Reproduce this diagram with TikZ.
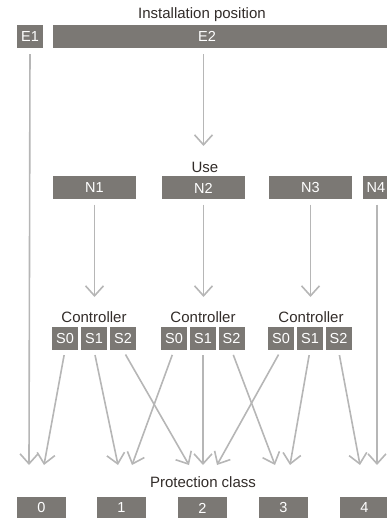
\documentclass[tikz,border=0pt]{standalone}
\usepackage{fontspec}
\setmainfont{Liberation Sans}
\usetikzlibrary{arrows.meta}
\definecolor{boxgray}{RGB}{123,120,116}
\definecolor{linegray}{RGB}{182,182,182}
\definecolor{txtgray}{RGB}{50,44,41}

\begin{document}
\begin{tikzpicture}[x=1pt,y=-1pt,
	box/.style={fill=boxgray,text=white,inner sep=0pt,minimum height=23pt,font=\fontsize{14.5}{16}\selectfont},
	boxlbl/.style={text=white,inner sep=0pt,font=\fontsize{14.5}{16}\selectfont},
	heading/.style={text=txtgray,inner sep=0pt,font=\fontsize{15}{17}\selectfont},
	arr/.style={draw=linegray,line width=1.6pt,-{Straight Barb[length=10pt,width=18pt]},shorten <=5pt}]

		\useasboundingbox (0,0) rectangle (387,518);
		\clip (0,0) rectangle (387,518);

		% installation position
		\node[heading] (inst) at (202,15) {Installation position};
		\node[box,minimum width=26pt] (e1) at (30,36.5) {E1};
		\node[box,minimum width=340pt,label={[boxlbl,xshift=-16pt]center:E2}] (e2) at (223,36.5) {};

		% use
		\node[heading] (use) at (205,167) {Use};
		\node[box,minimum width=83pt] (n1) at ( 94.5,188) {N1};
		\node[box,minimum width=83pt] (n2) at (203.5,188) {N2};
		\node[box,minimum width=83pt] (n3) at (310.5,188) {N3};
		\node[box,minimum width=83pt,label={[boxlbl,xshift=-28.5pt]center:N4}] (n4) at (404.5,188) {};

		% controllers
		\node[heading] (ctl1) at ( 94,317) {Controller};
		\node[heading] (ctl2) at (203,317) {Controller};
		\node[heading] (ctl3) at (311,317) {Controller};
		\node[box,minimum width=26pt] (s10) at ( 65.0,338.5) {S0};
		\node[box,minimum width=26pt] (s11) at ( 94.0,338.5) {S1};
		\node[box,minimum width=26pt] (s12) at (123.0,338.5) {S2};
		\node[box,minimum width=26pt] (s20) at (174.0,338.5) {S0};
		\node[box,minimum width=26pt] (s21) at (203.0,338.5) {S1};
		\node[box,minimum width=26pt] (s22) at (231.5,338.5) {S2};
		\node[box,minimum width=26pt] (s30) at (281.0,338.5) {S0};
		\node[box,minimum width=26pt] (s31) at (310.0,338.5) {S1};
		\node[box,minimum width=26pt] (s32) at (338.5,338.5) {S2};

		% protection class
		\node[heading] (prot) at (203,482) {Protection class};
		\node[box,minimum width=49pt] (p0) at ( 41.5,508) {0};
		\node[box,minimum width=49pt] (p1) at (121.5,508) {1};
		\node[box,minimum width=49pt] (p2) at (202.5,508) {2};
		\node[box,minimum width=49pt] (p3) at (283.5,508) {3};
		\node[box,minimum width=49pt] (p4) at (364.5,508) {4};

		% arrow ends
		\coordinate (u)  at (203.5,146);
		\coordinate (k1) at ( 94.5,297);
		\coordinate (k2) at (203.5,297);
		\coordinate (k3) at (310.5,297);
		\coordinate (t0a) at ( 29,465); \coordinate (t0b) at ( 44,465);
		\coordinate (t1a) at (118,465); \coordinate (t1b) at (132,465);
		\coordinate (t2a) at (189,465); \coordinate (t2b) at (203,465); \coordinate (t2c) at (217,465);
		\coordinate (t3a) at (275,465); \coordinate (t3b) at (290,465);
		\coordinate (t4a) at (360,465); \coordinate (t4b) at (377,465);

		\draw[arr,shorten <=6pt] (e1.south) -- (t0a);
		\draw[arr,shorten <=6pt] (e2.south -| u) -- (u);
		\draw[arr] (n1.south) -- (k1);
		\draw[arr] (n2.south) -- (k2);
		\draw[arr] (n3.south) -- (k3);
		\draw[arr] (n4.south -| t4b) -- (t4b);

		\draw[arr] (s10.south) -- (t0b); \draw[arr] (s11.south) -- (t1a); \draw[arr] (s12.south) -- (t2a);
		\draw[arr] (s20.south) -- (t1b); \draw[arr] (s21.south) -- (t2b); \draw[arr] (s22.south) -- (t3a);
		\draw[arr] (s30.south) -- (t2c); \draw[arr] (s31.south) -- (t3b); \draw[arr] (s32.south) -- (t4a);

	\end{tikzpicture}
\end{document}
